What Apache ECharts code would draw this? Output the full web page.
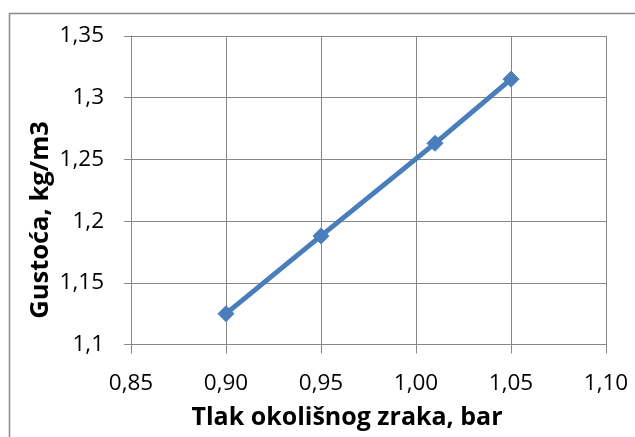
<!DOCTYPE html>
<html><head><meta charset="utf-8">
<script src="https://cdn.jsdelivr.net/npm/echarts@6/dist/echarts.min.js"></script>
<style>html,body{margin:0;padding:0;background:#fff}#c{width:635px;height:437px}</style>
</head><body><div id="c"></div>
<script>
const pressure = [0.90, 0.95, 1.01, 1.05];
const density = [1.125, 1.188, 1.263, 1.315];
const xTitle = 'Tlak okolišnog zraka, bar';
const yTitle = 'Gustoća, kg/m3';

const FONT = 'Open Sans';
const GRAY = '#878787';
const chart = echarts.init(document.getElementById('c'), null, {renderer: 'canvas'});
chart.setOption({
  animation: false,
  grid: {left: 131, right: 29, top: 36, bottom: 92.5, containLabel: false},
  xAxis: {
    type: 'value', min: 0.85, max: 1.10, interval: 0.05,
    axisLine: {show: true, lineStyle: {color: GRAY, width: 1}},
    axisTick: {show: true, length: 9, lineStyle: {color: GRAY, width: 1}},
    splitLine: {show: true, lineStyle: {color: GRAY, width: 1}},
    axisLabel: {margin: 28, color: '#000', fontFamily: FONT, fontSize: 22.5,
      formatter: v => v.toFixed(2).replace('.', ',')}
  },
  yAxis: {
    type: 'value', min: 1.10, max: 1.35, interval: 0.05,
    axisLine: {show: true, lineStyle: {color: GRAY, width: 1}},
    axisTick: {show: true, length: 7, lineStyle: {color: GRAY, width: 1}},
    splitLine: {show: true, lineStyle: {color: GRAY, width: 1}},
    axisLabel: {margin: 27, color: '#000', fontFamily: FONT, fontSize: 22.5,
      formatter: v => String(Math.round(v * 100) / 100).replace('.', ',')}
  },
  series: [{
    type: 'line',
    data: pressure.map((p, i) => [p, density[i]]),
    symbol: 'diamond', symbolSize: 16, showAllSymbol: true,
    lineStyle: {color: '#4A7EBB', width: 5},
    itemStyle: {color: '#4A7EBB', borderColor: '#4A7EBB'}
  }],
  graphic: [
    {type: 'rect', shape: {x: 9.5, y: 13.5, width: 700, height: 500}, silent: true,
     style: {fill: 'none', stroke: '#898989', lineWidth: 1.5}, z: -1},
    {type: 'text', x: 347, y: 418, style: {text: xTitle, fontFamily: FONT, fontWeight: 'bold', fontSize: 25,
      fill: '#000', textAlign: 'center', textVerticalAlign: 'middle'}},
    {type: 'text', x: 41, y: 220, rotation: Math.PI / 2, style: {text: yTitle, fontFamily: FONT, fontWeight: 'bold', fontSize: 25.5,
      fill: '#000', textAlign: 'center', textVerticalAlign: 'middle'}}
  ]
});
</script></body></html>
